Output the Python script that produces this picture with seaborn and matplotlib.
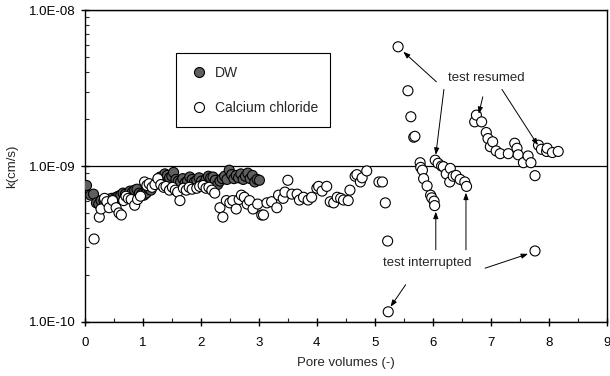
import matplotlib
matplotlib.use("Agg")
import matplotlib.pyplot as plt
import matplotlib.ticker as mticker
import seaborn as sns
import pandas as pd

# DW series (pore volumes, k in cm/s)
dw_pv = [0.03, 0.10, 0.15, 0.20, 0.24, 0.28, 0.33, 0.37, 0.42, 0.46, 0.50, 0.54,
         0.58, 0.62, 0.66, 0.70, 0.74, 0.78, 0.82, 0.86, 0.90, 0.94, 0.98, 1.02,
         1.06, 1.10, 1.14, 1.18, 1.22, 1.26, 1.30, 1.34, 1.38, 1.42, 1.46, 1.50,
         1.53, 1.57, 1.61, 1.65, 1.69, 1.73, 1.77, 1.81, 1.85, 1.89, 1.93, 1.97,
         2.01, 2.05, 2.09, 2.13, 2.17, 2.21, 2.25, 2.29, 2.33, 2.37, 2.41, 2.45,
         2.49, 2.53, 2.57, 2.61, 2.65, 2.69, 2.73, 2.77, 2.81, 2.85, 2.89, 2.93,
         2.97, 3.01]
dw_k = [7.5, 6.5, 6.6, 5.8, 5.7, 6.0, 6.0, 5.9, 6.1, 6.2, 6.0, 6.3,
        6.4, 6.5, 6.7, 6.6, 6.4, 6.9, 6.8, 7.0, 7.1, 6.7, 6.6, 6.5,
        6.7, 7.2, 7.0, 7.5, 7.7, 8.1, 8.5, 8.3, 8.9, 8.7, 8.4, 8.6,
        9.1, 8.2, 8.0, 7.9, 8.3, 7.8, 8.0, 8.5, 8.2, 7.9, 8.1, 8.4,
        8.0, 7.7, 8.2, 8.6, 8.4, 8.5, 8.1, 7.6, 8.0, 8.3, 8.6, 8.2,
        9.4, 8.8, 8.3, 8.7, 8.4, 8.9, 8.2, 8.6, 9.0, 8.3, 8.7, 7.9,
        8.2, 8.1]

# Calcium chloride series
cc_pv = [0.16, 0.25, 0.28, 0.34, 0.38, 0.42, 0.48, 0.54, 0.59, 0.63, 0.67, 0.71,
         0.75, 0.80, 0.86, 0.91, 0.96, 1.03, 1.07, 1.11, 1.16, 1.21, 1.26, 1.31,
         1.36, 1.40, 1.46, 1.51, 1.56, 1.60, 1.64, 1.70, 1.75, 1.80, 1.85, 1.93,
         1.98, 2.04, 2.09, 2.14, 2.19, 2.24, 2.33, 2.38, 2.44, 2.50, 2.55, 2.61,
         2.66, 2.70, 2.75, 2.80, 2.84, 2.90, 2.98, 3.05, 3.08, 3.14, 3.22, 3.31,
         3.34, 3.42, 3.45, 3.50, 3.57, 3.66, 3.70, 3.77, 3.85, 3.91, 4.00, 4.03,
         4.09, 4.17, 4.23, 4.29, 4.35, 4.41, 4.46, 4.54, 4.57, 4.66, 4.69, 4.75,
         4.78, 4.86, 5.07, 5.13, 5.18, 5.22, 5.23, 5.40, 5.57, 5.62, 5.67, 5.69,
         5.78, 5.79, 5.82, 5.84, 5.90, 5.96, 5.98, 6.02, 6.03, 6.04, 6.09, 6.15,
         6.18, 6.23, 6.29, 6.30, 6.35, 6.40, 6.47, 6.55, 6.58, 6.72, 6.75, 6.84,
         6.92, 6.95, 6.99, 7.03, 7.09, 7.16, 7.30, 7.41, 7.45, 7.47, 7.56, 7.64,
         7.69, 7.76, 7.76, 7.82, 7.87, 7.96, 7.97, 8.06, 8.16]
cc_k = [3.4, 4.7, 5.3, 6.2, 5.9, 5.4, 6.0, 5.4, 5.0, 4.85, 6.0, 6.4,
        6.2, 6.1, 5.6, 6.1, 6.4, 7.9, 7.5, 7.7, 7.3, 7.6, 8.3, 7.6,
        7.3, 7.4, 7.0, 7.3, 7.0, 6.8, 6.0, 7.2, 7.0, 7.3, 7.1, 7.2,
        7.4, 7.5, 7.2, 7.3, 7.0, 6.7, 5.4, 4.7, 6.0, 5.8, 6.0, 5.3,
        6.1, 6.5, 6.3, 5.7, 6.0, 5.3, 5.7, 4.85, 4.85, 5.8, 5.9, 5.4,
        6.5, 6.2, 6.8, 8.1, 6.6, 6.6, 6.05, 6.3, 6.05, 6.3, 7.2, 7.4,
        6.9, 7.4, 5.9, 5.8, 6.3, 6.2, 6.05, 6.0, 7.0, 8.6, 8.8, 7.9,
        8.4, 9.3, 7.9, 7.9, 5.8, 3.3, 1.16, 58.2, 30.4, 20.7, 15.3, 15.5,
        10.5, 9.8, 9.4, 8.3, 7.45, 6.5, 6.25, 5.95, 5.57, 10.9, 10.4, 10.0,
        9.9, 8.9, 7.9, 9.65, 8.6, 8.7, 8.2, 7.9, 7.4, 19.2, 21.2, 19.2,
        16.4, 15.0, 13.3, 14.3, 12.5, 12.0, 12.0, 14.0, 13.0, 11.8, 10.5, 11.6,
        10.5, 8.67, 2.85, 13.6, 12.8, 12.4, 13.0, 12.2, 12.4]

df = pd.DataFrame({
    "pv": dw_pv + cc_pv,
    "k": [v * 1e-10 for v in dw_k + cc_k],
    "series": ["DW"] * len(dw_pv) + ["Calcium chloride"] * len(cc_pv),
})

sns.set_style("ticks")
plt.rcParams["font.family"] = ["Liberation Sans", "DejaVu Sans"]

fig = plt.figure(figsize=(6.1, 3.76), dpi=100)
ax = fig.add_axes([0.139, 0.144, 0.856, 0.829])

sns.scatterplot(data=df, x="pv", y="k", hue="series",
                palette={"DW": "#5f5f5f", "Calcium chloride": "white"},
                edgecolor="black", linewidth=0.8, s=52, ax=ax, zorder=3)

ax.set_yscale("log")
ax.set_ylim(1e-10, 1e-8)
ax.set_xlim(0, 9)
ax.xaxis.set_major_locator(mticker.MultipleLocator(1))
ax.xaxis.set_minor_locator(mticker.MultipleLocator(0.5))
ax.yaxis.set_major_formatter(mticker.FuncFormatter(lambda v, p: f"{v:.1E}"))
ax.yaxis.set_minor_formatter(mticker.NullFormatter())
ax.tick_params(axis="both", which="major", direction="inout", length=6,
               width=1, labelsize=9.5, colors="black")
ax.tick_params(axis="x", which="major", pad=8)
ax.tick_params(axis="both", which="minor", direction="in", length=3, width=0.8)
ax.yaxis.grid(True, which="major", color="black", linewidth=0.9)
ax.set_axisbelow(True)
for sp in ax.spines.values():
    sp.set_color("black")
    sp.set_linewidth(1.0)

ax.set_xlabel("Pore volumes (-)", fontsize=9.5, labelpad=6)
ax.set_ylabel("k(cm/s)", fontsize=9.5, labelpad=8)

ax.legend(loc="upper left", bbox_to_anchor=(0.174, 0.631, 0.295, 0.231),
          mode="expand", frameon=True, fancybox=False, edgecolor="black",
          framealpha=1, fontsize=10, labelspacing=1.5, borderpad=0.9,
          handlelength=1.6, handletextpad=0.3, borderaxespad=0)
ax.get_legend().get_frame().set_linewidth(0.8)

arrow = dict(arrowstyle="-|>,head_length=0.4,head_width=0.15",
             color="black", lw=0.7, shrinkA=0, shrinkB=0)
ax.text(6.92, 3.66e-9, "test resumed", fontsize=9.5, ha="center", va="center")
for start, tip in [((6.06, 3.47e-9), (5.49, 5.41e-9)),
                   ((6.19, 3.1e-9), (6.05, 1.18e-9)),
                   ((6.86, 2.78e-9), (6.79, 2.16e-9)),
                   ((7.19, 3.1e-9), (7.81, 1.36e-9))]:
    ax.annotate("", xy=tip, xytext=start, arrowprops=arrow)

ax.text(5.91, 2.39e-10, "test interrupted", fontsize=9.5, ha="center", va="center")
for start, tip in [((6.05, 2.9e-10), (6.05, 5.09e-10)),
                   ((6.57, 2.9e-10), (6.57, 6.74e-10)),
                   ((6.90, 2.21e-10), (7.64, 2.73e-10)),
                   ((5.53, 1.73e-10), (5.27, 1.25e-10))]:
    ax.annotate("", xy=tip, xytext=start, arrowprops=arrow)

plt.savefig("out.png", dpi=100)
